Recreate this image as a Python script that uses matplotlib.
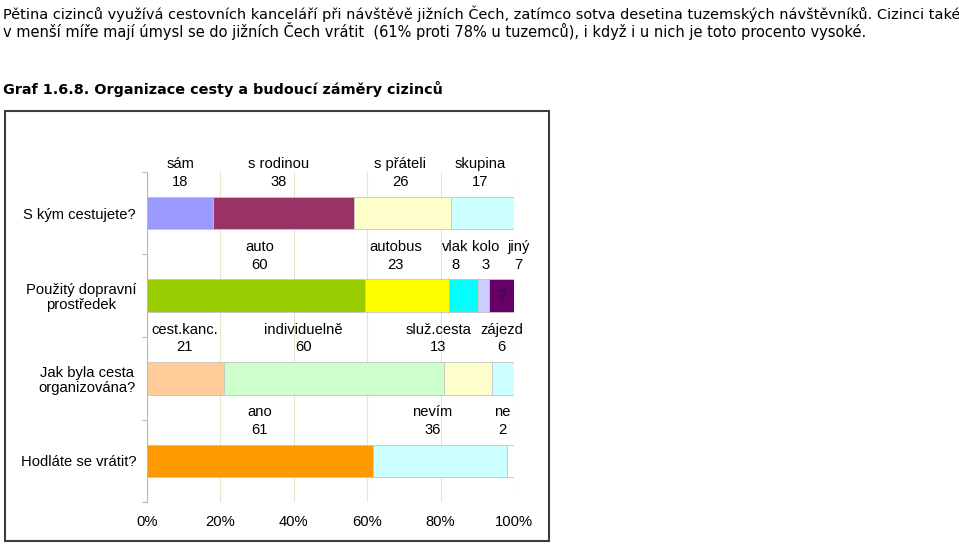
import matplotlib
matplotlib.use("Agg")
import matplotlib.pyplot as plt
from matplotlib.patches import Rectangle
import numpy as np

# ---------------- data ----------------
questions = ["S kým cestujete?", "Použitý dopravní\nprostředek",
             "Jak byla cesta\norganizována?", "Hodláte se vrátit?"]

with_whom_names = ["sám", "s rodinou", "s přáteli", "skupina"]
with_whom_vals = [18, 38, 26, 17]

transport_names = ["auto", "autobus", "vlak", "kolo", "jiný"]
transport_vals = [60, 23, 8, 3, 7]

organized_names = ["cest.kanc.", "individuelně", "služ.cesta", "zájezd"]
organized_vals = [21, 60, 13, 6]

return_names = ["ano", "nevím", "ne"]
return_vals = [61, 36, 2]

xticks = [0, 20, 40, 60, 80, 100]
xtick_labels = ["0%", "20%", "40%", "60%", "80%", "100%"]

para_line1 = ("Pětina cizinců využívá cestovních kanceláří při návštěvě jižních Čech, "
              "zatímco sotva desetina tuzemských návštěvníků. Cizinci také")
para_line2 = ("v menší míře mají úmysl se do jižních Čech vrátit  (61% proti 78% u tuzemců), "
              "i když i u nich je toto procento vysoké.")
graph_title = "Graf 1.6.8. Organizace cesty a budoucí záměry cizinců"

# ---------------- styles ----------------
row_colors = [
    ["#9999ff", "#993366", "#ffffcc", "#ccffff"],
    ["#99cc00", "#ffff00", "#00ffff", "#ccccff", "#660066"],
    ["#ffcc99", "#ccffcc", "#ffffcc", "#ccffff"],
    ["#ff9900", "#ccffff", "#ffffff"],
]
# manual horizontal shifts of the labels (percent points) as in the original
label_shift = [
    [0.0, -1.5, -0.6, -0.7],
    [1.0, -3.1, -2.2, 0.7, 4.7],
    [-0.2, -8.4, -8.1, -0.4],
    [0.0, -2.0, -2.2],
]

W, H = 959, 544
fig = plt.figure(figsize=(W / 100, H / 100), dpi=100)
fig.patch.set_facecolor("white")

ax_l, ax_r, ax_t, ax_b = 146.7, 514.0, 171.7, 502.3
ax = fig.add_axes([ax_l / W, 1 - ax_b / H, (ax_r - ax_l) / W, (ax_b - ax_t) / H])

chart_font = "Liberation Sans"
fs = 10.6

rows = [(with_whom_names, with_whom_vals), (transport_names, transport_vals),
        (organized_names, organized_vals), (return_names, return_vals)]

for i, (names, vals) in enumerate(rows):
    vals = np.asarray(vals, dtype=float)
    pct = vals / vals.sum() * 100
    left = np.concatenate([[0], np.cumsum(pct)[:-1]])
    ax.barh([i] * len(vals), pct, left=left, height=0.395,
            color=row_colors[i], edgecolor="#c4c4c4", linewidth=0.6, zorder=2)
    for j, (nm, v) in enumerate(zip(names, vals)):
        xc = left[j] + pct[j] / 2 + label_shift[i][j]
        ax.text(xc, i - 0.59, nm, ha="center", va="center",
                fontsize=fs, family=chart_font, color="black", clip_on=False)
        ax.text(xc, i - 0.375, f"{int(v)}", ha="center", va="center",
                fontsize=fs, family=chart_font, color="black", clip_on=False)
    if i == 1:
        # data label inside the last (dark) segment
        j = len(vals) - 1
        ax.text(left[j] + pct[j] / 2, i, f"{int(vals[j])}", ha="center", va="center",
                fontsize=fs, family=chart_font, color="#3a0a3a", zorder=3)

ax.set_xlim(0, 100)
ax.set_ylim(3.5, -0.5)
ax.set_axisbelow(True)
ax.xaxis.grid(True, color="#e8e4c8", linewidth=0.8)
for s in ["top", "right", "bottom"]:
    ax.spines[s].set_visible(False)
ax.spines["left"].set_color("#b8b8b8")
ax.spines["left"].set_linewidth(0.8)

ax.set_xticks(xticks)
ax.set_xticklabels(xtick_labels, fontsize=fs, family=chart_font)
ax.tick_params(axis="x", length=0, pad=9.5)

ax.set_yticks(range(len(questions)))
ax.set_yticklabels(questions, fontsize=fs, family=chart_font)
ax.set_yticks(np.arange(-0.5, len(questions), 1.0), minor=True)
ax.tick_params(axis="y", which="major", length=0, pad=7.7)
ax.tick_params(axis="y", which="minor", length=3.6, width=0.8, color="#b8b8b8")
for lab in ax.get_yticklabels():
    lab.set_multialignment("center")
    lab.set_linespacing(1.1)

# chart frame
fig.patches.append(Rectangle((5 / W, 1 - 541 / H), (548.7 - 5) / W, (541 - 111) / H,
                             transform=fig.transFigure, fill=False,
                             edgecolor="#3c3c3c", linewidth=1.5))

# paragraph text above the chart, width-fitted
renderer = fig.canvas.get_renderer()


def fitted_size(text, family, weight, target_px, base=10.0):
    t = fig.text(0, 0, text, fontsize=base, family=family, weight=weight)
    w = t.get_window_extent(renderer).width
    t.remove()
    return base * target_px / w


para_font = "DejaVu Sans"
ps1 = fitted_size(para_line1, para_font, "normal", 952)
ps2 = fitted_size(para_line2, para_font, "normal", 858)
fig.text(3 / W, 1 - 18.5 / H, para_line1, fontsize=ps1, family=para_font,
         va="baseline", ha="left", color="black")
fig.text(3 / W, 1 - 36.5 / H, para_line2, fontsize=ps2, family=para_font,
         va="baseline", ha="left", color="black")
ts = fitted_size(graph_title, para_font, "bold", 439)
fig.text(3 / W, 1 - 94 / H, graph_title, fontsize=ts, family=para_font,
         weight="bold", va="baseline", ha="left", color="black")

fig.savefig("out.png", dpi=100, facecolor="white")
